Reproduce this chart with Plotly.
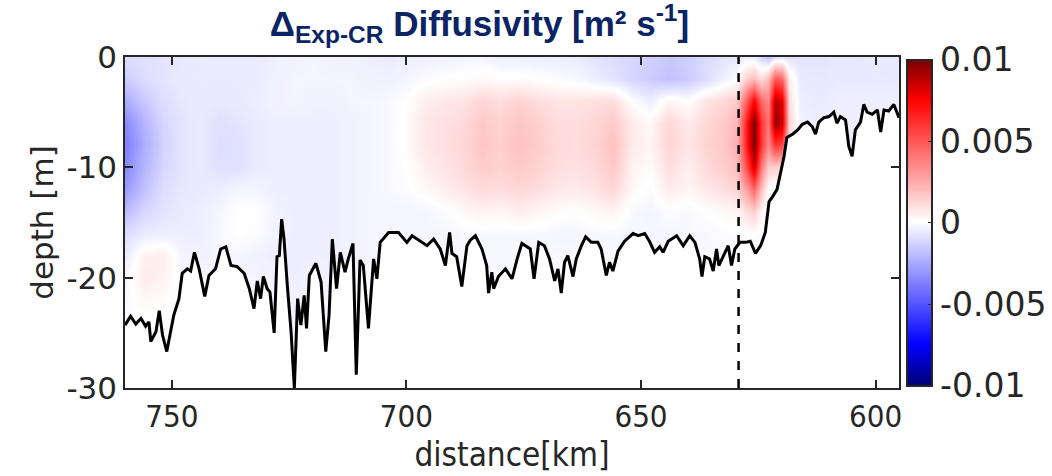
import numpy as np
import plotly.graph_objects as go

# ---------------- data ----------------
# grid columns (distance, km) and rows (depth, m)
dist_km = [760, 756, 752, 748, 744, 740, 736, 732, 728, 724, 720, 716, 712, 708, 704,
           700, 696, 692, 688, 684, 680, 676, 672, 668, 664, 660, 656, 652, 648, 644,
           640, 636, 632, 629.5, 627.5, 626, 624.5, 623, 621.5, 620, 618.5, 616, 612,
           608, 604, 600, 595]
depth_m = [0, -2, -4, -6, -8, -10, -12, -14, -16, -18, -20, -22, -25, -30]

# diffusivity difference, units of 1e-3 m^2 s^-1, one list per depth row
d00 = [-1.0, -0.9, -0.8, -0.7, -0.6, -0.6, -0.6, -0.6, -0.5, -0.4, -0.3, -0.4, -0.4, -0.5, -0.6,
       -0.5, -0.5, -0.4, -0.4, -0.3, -0.5, -0.5, -0.6, -0.5, -0.6, -0.8, -1.0, -1.2, -1.4, -1.6,
       -1.4, -1.0, -0.8, -0.7, -0.5, -0.6, -1.2, -1.8, -1.0, -0.9, -0.9, -0.8, -0.8,
       -0.7, -0.7, -0.6, -0.7]
d02 = [-1.5, -1.0, -0.8, -0.6, -0.6, -0.6, -0.6, -0.6, -0.4, -0.3, -0.3, -0.3, -0.3, -0.4, -0.4,
       -0.3, -0.1, 0.0, 0.1, 0.2, 0.1, 0.1, 0.0, -0.1, -0.2, -0.5, -0.8, -1.2, -1.5, -1.8,
       -1.5, -1.0, -0.4, 0.0, 1.5, 2.0, 1.0, 2.0, 5.0, 4.5, 0.5, -0.6, -0.7,
       -0.6, -0.6, -0.6, -0.6]
d04 = [-2.5, -1.6, -1.0, -0.7, -0.6, -0.7, -0.6, -0.5, -0.4, -0.3, -0.4, -0.4, -0.3, -0.3, -0.2,
       0.0, 0.5, 0.7, 0.8, 1.2, 1.0, 1.3, 1.0, 0.8, 0.8, 0.9, 1.0, 0.0, -0.5, 0.3,
       0.0, 0.8, 1.2, 1.6, 5.0, 7.5, 4.5, 3.5, 9.0, 8.0, 1.0, -0.5, -0.6,
       -0.5, -0.5, -0.5, -0.5]
d06 = [-3.5, -2.2, -1.2, -0.8, -0.6, -0.9, -0.8, -0.6, -0.5, -0.5, -0.5, -0.5, -0.4, -0.3, -0.2,
       0.1, 0.7, 0.9, 1.1, 1.6, 1.3, 1.7, 1.4, 1.0, 1.0, 1.2, 1.6, 0.6, 0.2, 1.2,
       0.6, 1.2, 1.6, 2.2, 7.0, 10.0, 6.0, 4.0, 9.5, 8.5, 1.2, -0.4, -0.5,
       -0.5, -0.5, -0.5, -0.5]
d08 = [-3.8, -2.4, -1.3, -0.8, -0.6, -1.0, -0.9, -0.6, -0.5, -0.5, -0.5, -0.5, -0.4, -0.3, -0.2,
       0.1, 0.7, 0.9, 1.2, 1.7, 1.4, 1.8, 1.5, 1.1, 1.0, 1.3, 1.8, 0.6, 0.3, 1.3,
       0.7, 1.3, 1.7, 2.4, 7.0, 10.0, 6.0, 3.5, 6.0, 5.5, 0.8, -0.4, -0.5,
       -0.5, -0.5, -0.5, -0.5]
d10 = [-3.5, -2.2, -1.2, -0.8, -0.6, -0.9, -0.9, -0.6, -0.5, -0.5, -0.5, -0.5, -0.4, -0.3, -0.2,
       0.0, 0.5, 0.8, 1.1, 1.5, 1.3, 1.6, 1.3, 1.0, 0.9, 1.1, 1.6, 0.4, 0.1, 1.0,
       0.5, 1.1, 1.5, 2.0, 5.5, 8.5, 4.0, 1.5, 1.5, 1.0, 0.0, -0.4, -0.5,
       -0.5, -0.5, -0.5, -0.5]
d12 = [-3.0, -1.8, -1.0, -0.7, -0.6, -0.5, -0.3, -0.3, -0.5, -0.5, -0.5, -0.5, -0.4, -0.3, -0.2,
       -0.1, 0.2, 0.5, 0.8, 1.1, 1.0, 1.2, 1.0, 0.7, 0.6, 0.8, 1.2, 0.2, -0.1, 0.6,
       0.3, 0.7, 1.0, 1.3, 3.0, 4.5, 2.0, 0.0, -0.3, -0.4, -0.5, -0.5, -0.5,
       -0.5, -0.5, -0.5, -0.5]
d14 = [-2.0, -1.2, -0.8, -0.6, -0.5, -0.3, 0.0, 0.0, -0.4, -0.5, -0.5, -0.5, -0.4, -0.3, -0.3,
       -0.3, -0.3, -0.1, 0.2, 0.4, 0.3, 0.5, 0.3, 0.1, 0.0, 0.2, 0.4, -0.2, -0.3, -0.1,
       -0.2, 0.0, 0.2, 0.3, 1.0, 1.5, 0.3, -0.2, -0.5, -0.5, -0.5, -0.5, -0.5,
       -0.5, -0.5, -0.5, -0.5]
d16 = [-1.0, -0.6, -0.5, -0.5, -0.5, -0.2, 0.0, -0.1, -0.4, -0.5, -0.5, -0.5, -0.4, -0.3, -0.3,
       -0.3, -0.3, -0.3, -0.2, -0.2, -0.2, -0.2, -0.2, -0.3, -0.3, -0.2, -0.2, -0.3, -0.3, -0.3,
       -0.2, -0.2, -0.1, -0.1, 0.0, 0.0, -0.2, -0.3, -0.5, -0.5, -0.5, -0.5, -0.5,
       -0.5, -0.5, -0.5, -0.5]
d18 = [-0.6, 0.4, 0.5, -0.3, -0.4, -0.3, -0.3, -0.4, -0.5, -0.5, -0.5, -0.5, -0.4, -0.3, -0.2,
       -0.2, -0.2, -0.2, -0.2, -0.2, -0.2, -0.2, -0.2, -0.2, -0.2, -0.2, -0.2, -0.2, -0.2, -0.2,
       -0.2, -0.2, -0.2, -0.2, -0.2, -0.2, -0.2, -0.3, -0.5, -0.5, -0.5, -0.5, -0.5,
       -0.5, -0.5, -0.5, -0.5]
d20 = [-0.3, 0.6, 0.4, -0.2, -0.2, -0.3, -0.3, -0.3, -0.4, -0.5, -0.4, -0.4, -0.3, -0.2, -0.2,
       -0.2, -0.2, -0.2, -0.2, -0.2, -0.2, -0.2, -0.2, -0.2, -0.2, -0.2, -0.2, -0.2, -0.2, -0.2,
       -0.2, -0.2, -0.2, -0.2, -0.2, -0.2, -0.2, -0.2, -0.3, -0.3, -0.3, -0.3, -0.3,
       -0.3, -0.3, -0.3, -0.3]
d22 = [-0.2, 0.2, 0.1, -0.2, -0.2, -0.2, -0.2, -0.3, -0.3, -0.4, -0.3, -0.3, -0.3, -0.2, -0.2,
       -0.2, -0.2, -0.2, -0.2, -0.2, -0.2, -0.2, -0.2, -0.2, -0.2, -0.2, -0.2, -0.2, -0.2, -0.2,
       -0.2, -0.2, -0.2, -0.2, -0.2, -0.2, -0.2, -0.2, -0.2, -0.2, -0.2, -0.2, -0.2,
       -0.2, -0.2, -0.2, -0.2]
d25 = [-0.1, -0.1, -0.1, -0.1, -0.1, -0.1, -0.2, -0.2, -0.3, -0.3, -0.3, -0.3, -0.2, -0.2, -0.1,
       -0.1, -0.1, -0.1, -0.1, -0.1, -0.1, -0.1, -0.1, -0.1, -0.1, -0.1, -0.1, -0.1, -0.1, -0.1,
       -0.1, -0.1, -0.1, -0.1, -0.1, -0.1, -0.1, -0.1, -0.1, -0.1, -0.1, -0.1, -0.1,
       -0.1, -0.1, -0.1, -0.1]
d30 = [0.0, 0.0, 0.0, 0.0, 0.0, -0.1, -0.1, -0.1, -0.2, -0.2, -0.2, -0.2, -0.1, -0.1, 0.0,
       0.0, 0.0, 0.0, 0.0, 0.0, 0.0, 0.0, 0.0, 0.0, 0.0, 0.0, 0.0, 0.0, 0.0, 0.0,
       0.0, 0.0, 0.0, 0.0, 0.0, 0.0, 0.0, 0.0, 0.0, 0.0, 0.0, 0.0, 0.0,
       0.0, 0.0, 0.0, 0.0]

# bathymetry along the section
bathy_km = [760.0, 759.5, 758.8, 757.7, 756.6, 755.6, 754.9, 754.5, 753.4, 752.7, 752.0, 751.1,
            750.3, 749.6, 748.5, 747.8, 746.7, 746.0, 745.2, 744.2, 743.0, 742.1, 740.7, 739.6,
            738.5, 737.4, 736.1, 734.6, 733.5, 732.5, 731.8, 731.1, 730.5, 729.7, 729.1, 728.2,
            727.6, 727.1, 726.6, 726.1, 725.4, 724.6, 723.9, 723.2, 722.5, 721.8, 721.3, 720.7,
            719.3, 718.2, 717.2, 716.5, 715.8, 714.9, 714.1, 713.1, 712.4, 711.4, 710.7, 709.9,
            709.2, 708.1, 707.0, 706.3, 705.6, 703.8, 701.7, 699.9, 698.8, 697.4, 695.6, 694.2,
            692.8, 691.7, 690.8, 690.3, 689.3, 688.2, 687.1, 686.4, 685.3, 683.9, 682.9, 682.5,
            681.8, 681.4, 680.4, 678.9, 677.5, 676.4, 675.4, 673.6, 672.8, 671.8, 670.6, 669.5,
            668.4, 667.7, 667.0, 666.3, 665.6, 664.5, 663.8, 662.7, 661.8, 660.6, 659.2, 658.5,
            657.4, 656.7, 656.0, 654.9, 653.5, 651.7, 650.6, 649.2, 648.2, 647.1, 646.0, 645.3,
            644.2, 642.4, 641.0, 639.6, 638.5, 637.5, 637.0, 636.4, 635.4, 634.6, 633.9, 633.4,
            632.5, 631.4, 630.7, 630.0, 628.9, 627.7, 626.7, 625.6, 624.5, 623.5, 622.7, 622.0,
            621.0, 620.2, 619.5, 618.9, 617.7, 616.6, 615.6, 614.5, 613.5, 612.8, 612.1, 611.0,
            609.9, 608.9, 608.2, 607.5, 606.4, 605.7, 605.0, 604.3, 603.2, 602.5, 601.8, 600.7,
            599.6, 598.9, 598.2, 597.2, 596.1, 595.0]
bathy_depth = [-24.3, -24.0, -23.5, -24.2, -23.7, -24.4, -24.0, -25.8, -24.9, -23.0, -25.2, -26.7,
               -24.9, -23.4, -21.9, -19.6, -19.2, -19.4, -17.7, -19.2, -21.7, -19.8, -19.2, -17.4,
               -17.2, -18.9, -19.0, -19.6, -21.0, -22.8, -20.3, -21.9, -19.9, -21.0, -21.3, -25.0,
               -18.1, -18.0, -14.7, -16.5, -20.7, -24.9, -30.0, -21.9, -24.3, -21.6, -24.6, -19.8,
               -18.7, -20.4, -26.7, -23.4, -16.5, -21.0, -17.7, -19.5, -18.3, -16.9, -28.8, -18.4,
               -18.9, -24.6, -18.3, -20.1, -16.8, -15.9, -15.9, -16.8, -16.2, -16.6, -17.1, -16.5,
               -17.4, -18.9, -15.9, -17.8, -18.1, -20.8, -17.1, -16.6, -16.2, -17.4, -18.9, -21.4,
               -19.5, -21.0, -19.9, -19.2, -20.1, -18.3, -16.9, -17.4, -20.1, -16.8, -17.1, -18.3,
               -20.3, -19.2, -21.4, -18.6, -18.0, -19.9, -18.3, -17.1, -16.3, -16.8, -16.8, -17.4,
               -19.8, -18.6, -19.4, -17.6, -16.7, -16.0, -16.2, -16.0, -16.7, -17.7, -17.2, -17.7,
               -16.7, -16.2, -17.1, -16.2, -16.8, -18.3, -19.9, -18.1, -18.3, -19.4, -17.4, -18.9,
               -18.1, -17.1, -18.9, -17.4, -16.8, -16.8, -16.7, -17.8, -17.1, -15.9, -13.1, -12.7,
               -12.0, -10.5, -9.0, -7.3, -7.0, -6.6, -6.1, -5.9, -6.3, -7.0, -5.9, -5.5,
               -5.4, -5.0, -6.0, -5.4, -5.7, -8.1, -9.0, -6.6, -5.9, -4.3, -5.0, -5.2,
               -4.8, -6.8, -4.8, -4.9, -4.3, -5.5]

front_km = 629.2  # dashed reference line
x_ticks = [750, 700, 650, 600]
x_labels = ["750", "700", "650", "600"]
y_ticks = [-30, -20, -10, 0]
y_labels = ["-30", "-20", "-10", "0"]
cb_ticks = [-0.01, -0.005, 0, 0.005, 0.01]
cb_labels = ["-0.01", "-0.005", "0", "0.005", "0.01"]

# ---------------- figure ----------------
rows = [d00, d02, d04, d06, d08, d10, d12, d14, d16, d18, d20, d22, d25, d30]
z = np.array(rows) * 1e-3

axis_col = "#262626"
font_main = "DejaVu Sans"
font_cond = "DejaVu Sans Condensed, DejaVu Sans"

colorscale = [[0.0, "rgb(0,0,120)"], [0.125, "rgb(0,0,255)"], [0.5, "rgb(255,255,255)"],
              [0.875, "rgb(255,0,0)"], [1.0, "rgb(120,0,0)"]]

fig = go.Figure()
fig.add_trace(go.Heatmap(
    x=dist_km, y=depth_m, z=z, zmin=-0.01, zmax=0.01, zsmooth="best",
    colorscale=colorscale, hoverinfo="skip",
    colorbar=dict(
        x=1.0103, xanchor="left", xref="paper", y=0.5, yanchor="middle",
        len=0.985, lenmode="fraction", thickness=25, thicknessmode="pixels",
        xpad=0, ypad=0,
        outlinecolor=axis_col, outlinewidth=2,
        tickvals=cb_ticks, ticktext=cb_labels, ticks="inside", ticklen=5,
        tickcolor=axis_col, tickfont=dict(family=font_main, size=33, color=axis_col),
    ),
))
# seabed mask (white below bathymetry)
fig.add_trace(go.Scatter(x=bathy_km, y=[-31] * len(bathy_km), mode="lines",
                         line=dict(width=0, color="white"), hoverinfo="skip", showlegend=False))
fig.add_trace(go.Scatter(x=bathy_km, y=bathy_depth, mode="lines", fill="tonexty",
                         fillcolor="white", line=dict(color="black", width=3),
                         hoverinfo="skip", showlegend=False))

fig.add_shape(type="line", x0=front_km, x1=front_km, y0=0, y1=1, xref="x", yref="paper",
              line=dict(color="black", width=2.5, dash="dash"))

fig.update_layout(
    width=1052, height=476,
    margin=dict(l=125, r=153, t=57, b=88, autoexpand=False),
    paper_bgcolor="white", plot_bgcolor="white",
    showlegend=False,
    title=dict(
        text="<b>Δ<sub>Exp-CR</sub> Diffusivity [m² s<sup>-1</sup>]</b>",
        x=0.458, xref="paper", xanchor="center", y=0.95, yanchor="middle",
        font=dict(family="Liberation Sans", size=35, color="#0b2465"),
    ),
    xaxis=dict(
        range=[760, 595], tickvals=x_ticks, ticktext=x_labels, ticks="inside", ticklen=8,
        tickwidth=1.5, tickcolor=axis_col, showline=True, linecolor=axis_col, linewidth=1.5,
        mirror="ticks", showgrid=False, zeroline=False,
        tickfont=dict(family=font_cond, size=31, color=axis_col),
        title=dict(text="distance[km]", font=dict(family=font_cond, size=33, color=axis_col),
                   standoff=10),
    ),
    yaxis=dict(
        range=[-30, 0], tickvals=y_ticks, ticktext=y_labels, ticks="inside", ticklen=8,
        tickwidth=1.5, tickcolor=axis_col, showline=True, linecolor=axis_col, linewidth=1.5,
        mirror="ticks", showgrid=False, zeroline=False,
        tickfont=dict(family=font_main, size=31, color=axis_col),
        title=dict(text="depth [m]", font=dict(family=font_main, size=31, color=axis_col),
                   standoff=4),
    ),
)

fig.write_html("out.html")
